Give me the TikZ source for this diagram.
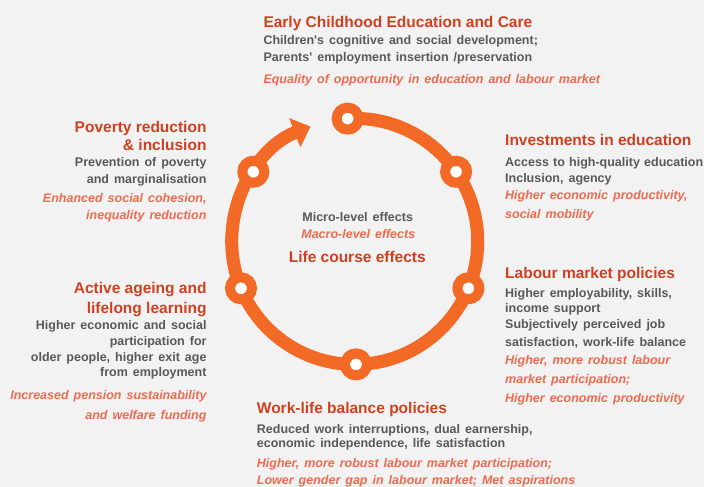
\documentclass[tikz,border=0pt]{standalone}
\usepackage{fontspec}
\setmainfont{Liberation Sans}
\usetikzlibrary{arrows.meta}
\definecolor{bggray}{HTML}{F2F2F2}
\definecolor{ringorange}{HTML}{F26A25}
\definecolor{titlered}{HTML}{D0401F}
\definecolor{bodygray}{HTML}{595959}
\definecolor{effectsalmon}{HTML}{EF6A4F}
\newcommand\widespace{\spaceskip 5pt\relax}

\begin{document}
\begin{tikzpicture}[x=1pt,y=1pt,inner sep=0pt,
  dot/.style={circle,draw=ringorange,fill=white,line width=10pt,minimum size=22pt,inner sep=0pt},
  head/.style={text=titlered,font=\fontsize{15.5}{18.5}\selectfont\bfseries},
  micro/.style={text=bodygray,font={\fontsize{12.5}{15}\selectfont\bfseries\widespace}},
  macro/.style={text=effectsalmon,font={\fontsize{12.5}{18}\selectfont\bfseries\itshape\widespace}}]
\fill[bggray] (0,0) rectangle (704,487);
\useasboundingbox (0,0) rectangle (704,487);

\coordinate (c) at (354.7,245.6);
\draw[ringorange,line width=13pt,-{Triangle[width=30pt,length=17pt]}] ([shift={(93.3:123)}]c) arc[start angle=93.3,end angle=-249,radius=123];

\node[dot] (ecec) at ([shift={(93.3:123)}]c) {};
\node[dot] (educ) at ([shift={(34.5:123)}]c) {};
\node[dot] (labour) at ([shift={(-22.4:123)}]c) {};
\node[dot] (worklife) at ([shift={(-89.4:123)}]c) {};
\node[dot] (ageing) at ([shift={(202.4:123)}]c) {};
\node[dot] (poverty) at ([shift={(145.5:123)}]c) {};

\node[micro,anchor=base] (microlabel) at (357.7,265.3) {Micro-level effects};
\node[macro,anchor=base] (macrolabel) at (358.3,248) {Macro-level effects};
\node[head,anchor=base] (lifecourse) at (357.3,224.3) {Life course effects};

\node[head,anchor=base west] (ecectitle) at (263.3,459.3) {Early Childhood Education and Care};
\node[micro,anchor=base west,align=left] (ececmicro) at (263.3,425.3) {Children\textquotesingle s cognitive and social development;\\[1.7pt]Parents\textquotesingle\ employment insertion /preservation};
\node[macro,anchor=base west] (ececmacro) at (263.3,403.7) {Equality of opportunity in education and labour market};

\node[head,anchor=base east,align=right] (povtitle) at (206.7,336.3) {Poverty reduction\\\& inclusion};
\node[micro,anchor=base east,align=right] (povmicro) at (206.7,303.7) {Prevention of poverty\\[1.6pt]and marginalisation};
\node[macro,anchor=base east,align=right] (povmacro) at (206.7,267) {Enhanced social cohesion,\\[-0.3pt]inequality reduction};

\node[head,anchor=base west] (edutitle) at (505,341) {Investments in education};
\node[micro,anchor=base west,align=left] (edumicro) at (505,304.7) {\spaceskip 4.2pt\relax Access to high-quality education\\[0.6pt]Inclusion, agency};
\node[macro,anchor=base west,align=left] (edumacro) at (505,268.7) {Higher economic productivity,\\[0.3pt]social mobility};

\node[head,anchor=base west] (labtitle) at (505,208) {Labour market policies};
\node[micro,anchor=base west,align=left] (labmicro) at (505,174.7) {Higher employability, skills,\\income support};
\node[micro,anchor=base west,align=left] (labjob) at (505,140.3) {Subjectively perceived job\\[3.4pt]satisfaction, work-life balance};
\node[macro,anchor=base west,align=left] (labmacro) at (505,84.3) {Higher, more robust labour\\[0.3pt]market participation;\\[1.4pt]Higher economic productivity};

\node[head,anchor=base east,align=right] (agetitle) at (206.7,173) {Active ageing and\\[1.5pt]lifelong learning};
\node[micro,anchor=base east,align=right] (agemicro) at (206.7,110.3) {Higher economic and social\\[0.6pt]participation for\\[0.6pt]older people, higher exit age\\[0.6pt]from employment};
\node[macro,anchor=base east,align=right] (agemacro) at (206.7,67) {Increased pension sustainability\\[2pt]and welfare funding};

\node[head,anchor=base west] (wltitle) at (256.7,73) {Work-life balance policies};
\node[micro,anchor=base west,align=left] (wlmicro) at (256.7,39.7) {Reduced work interruptions, dual earnership,\\[-1pt]economic independence, life satisfaction};
\node[macro,anchor=base west,align=left] (wlmacro) at (256.7,2.7) {Higher, more robust labour market participation;\\[-1pt]Lower gender gap in labour market; Met aspirations};
\end{tikzpicture}
\end{document}
